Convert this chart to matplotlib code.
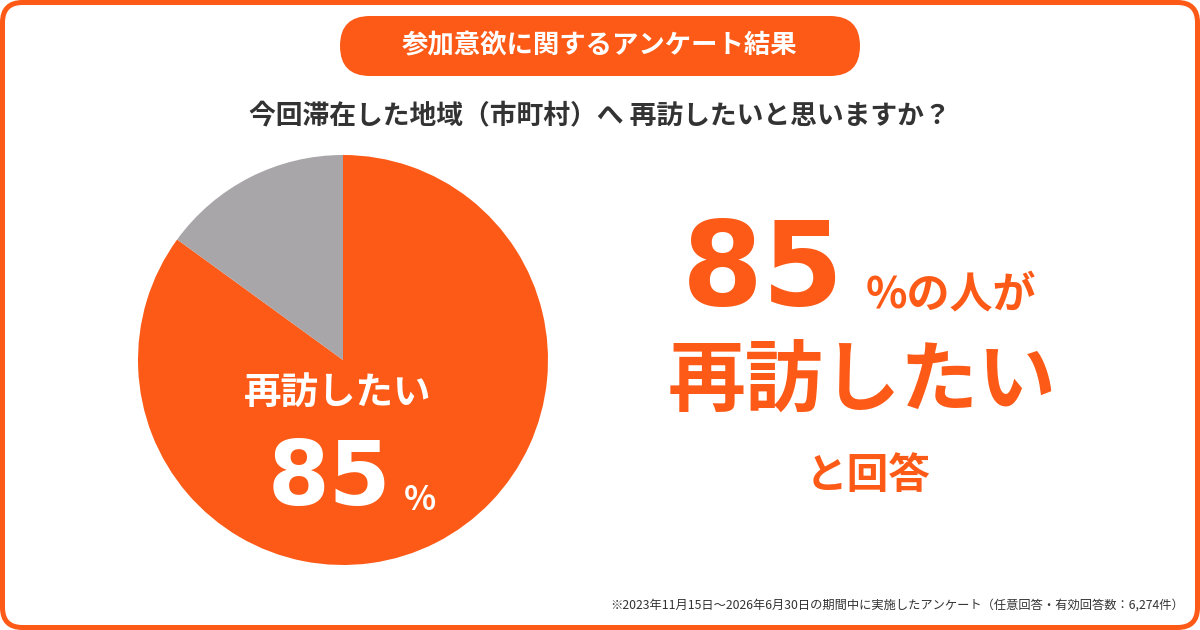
import matplotlib
matplotlib.use("Agg")
import matplotlib.pyplot as plt
from matplotlib.patches import FancyBboxPatch

plt.rcParams['font.family'] = ['Noto Sans CJK JP', 'DejaVu Sans']

# データ
labels = ['再訪したい', 'その他']
values = [85, 15]
colors = ['#FC5A16', '#A8A6A9']

title = '参加意欲に関するアンケート結果'
question = '今回滞在した地域（市町村）へ 再訪したいと思いますか？'
note = '※2023年11月15日～2026年6月30日の期間中に実施したアンケート（任意回答・有効回答数：6,274件）'

ORANGE = '#FC5A16'
DARK = '#333333'
W, H = 1200, 630

fig = plt.figure(figsize=(12, 6.3), dpi=100)
ax = fig.add_axes([0, 0, 1, 1])


def py(y):
    # 画像座標（上が0）→ データ座標
    return H - y


# 円グラフ
ax.pie(values, colors=colors, startangle=90, counterclock=False,
       center=(343, py(360)), radius=205, frame=False,
       wedgeprops=dict(linewidth=0))

ax.set_xlim(0, W)
ax.set_ylim(0, H)
ax.set_aspect('equal')
ax.axis('off')

# 外枠
ax.add_patch(FancyBboxPatch((2.5, 2.5), W - 5, H - 5,
                            boxstyle='round,pad=0,rounding_size=20',
                            fill=False, edgecolor=ORANGE, linewidth=3.6))

# タイトル（ピル）
ax.add_patch(FancyBboxPatch((340, py(76)), 520, 60,
                            boxstyle='round,pad=0,rounding_size=30',
                            facecolor=ORANGE, edgecolor='none'))
ax.text(600, py(46), title, color='white', fontsize=19, fontweight='bold',
        ha='center', va='center')

# 質問文
ax.text(600, py(116), question, color=DARK, fontsize=19.3, fontweight='bold',
        ha='center', va='center')

# 円グラフ上のラベル
ax.text(338, py(392), labels[0], color='white', fontsize=27, fontweight='bold',
        ha='center', va='center')
ax.text(268, py(505), f'{values[0]}', color='white', fontsize=64,
        fontweight='bold', family='DejaVu Sans', ha='left', va='baseline')
ax.text(404, py(510), '%', color='white', fontsize=24, fontweight='bold',
        ha='left', va='baseline')

# 右側のメッセージ
ax.text(682, py(305), f'{values[0]}', color=ORANGE, fontsize=84,
        fontweight='bold', family='DejaVu Sans', ha='left', va='baseline')
ax.text(866, py(308), '%の人が', color=ORANGE, fontsize=31, fontweight='bold',
        ha='left', va='baseline')
ax.text(862, py(383), labels[0], color=ORANGE, fontsize=56, fontweight='bold',
        ha='center', va='center')
ax.text(868, py(476), 'と回答', color=ORANGE, fontsize=30, fontweight='bold',
        ha='center', va='center')

# 注記
ax.text(1184, py(605), note, color=DARK, fontsize=8.8, ha='right', va='center')

fig.savefig('out.png', dpi=100, facecolor='white')
